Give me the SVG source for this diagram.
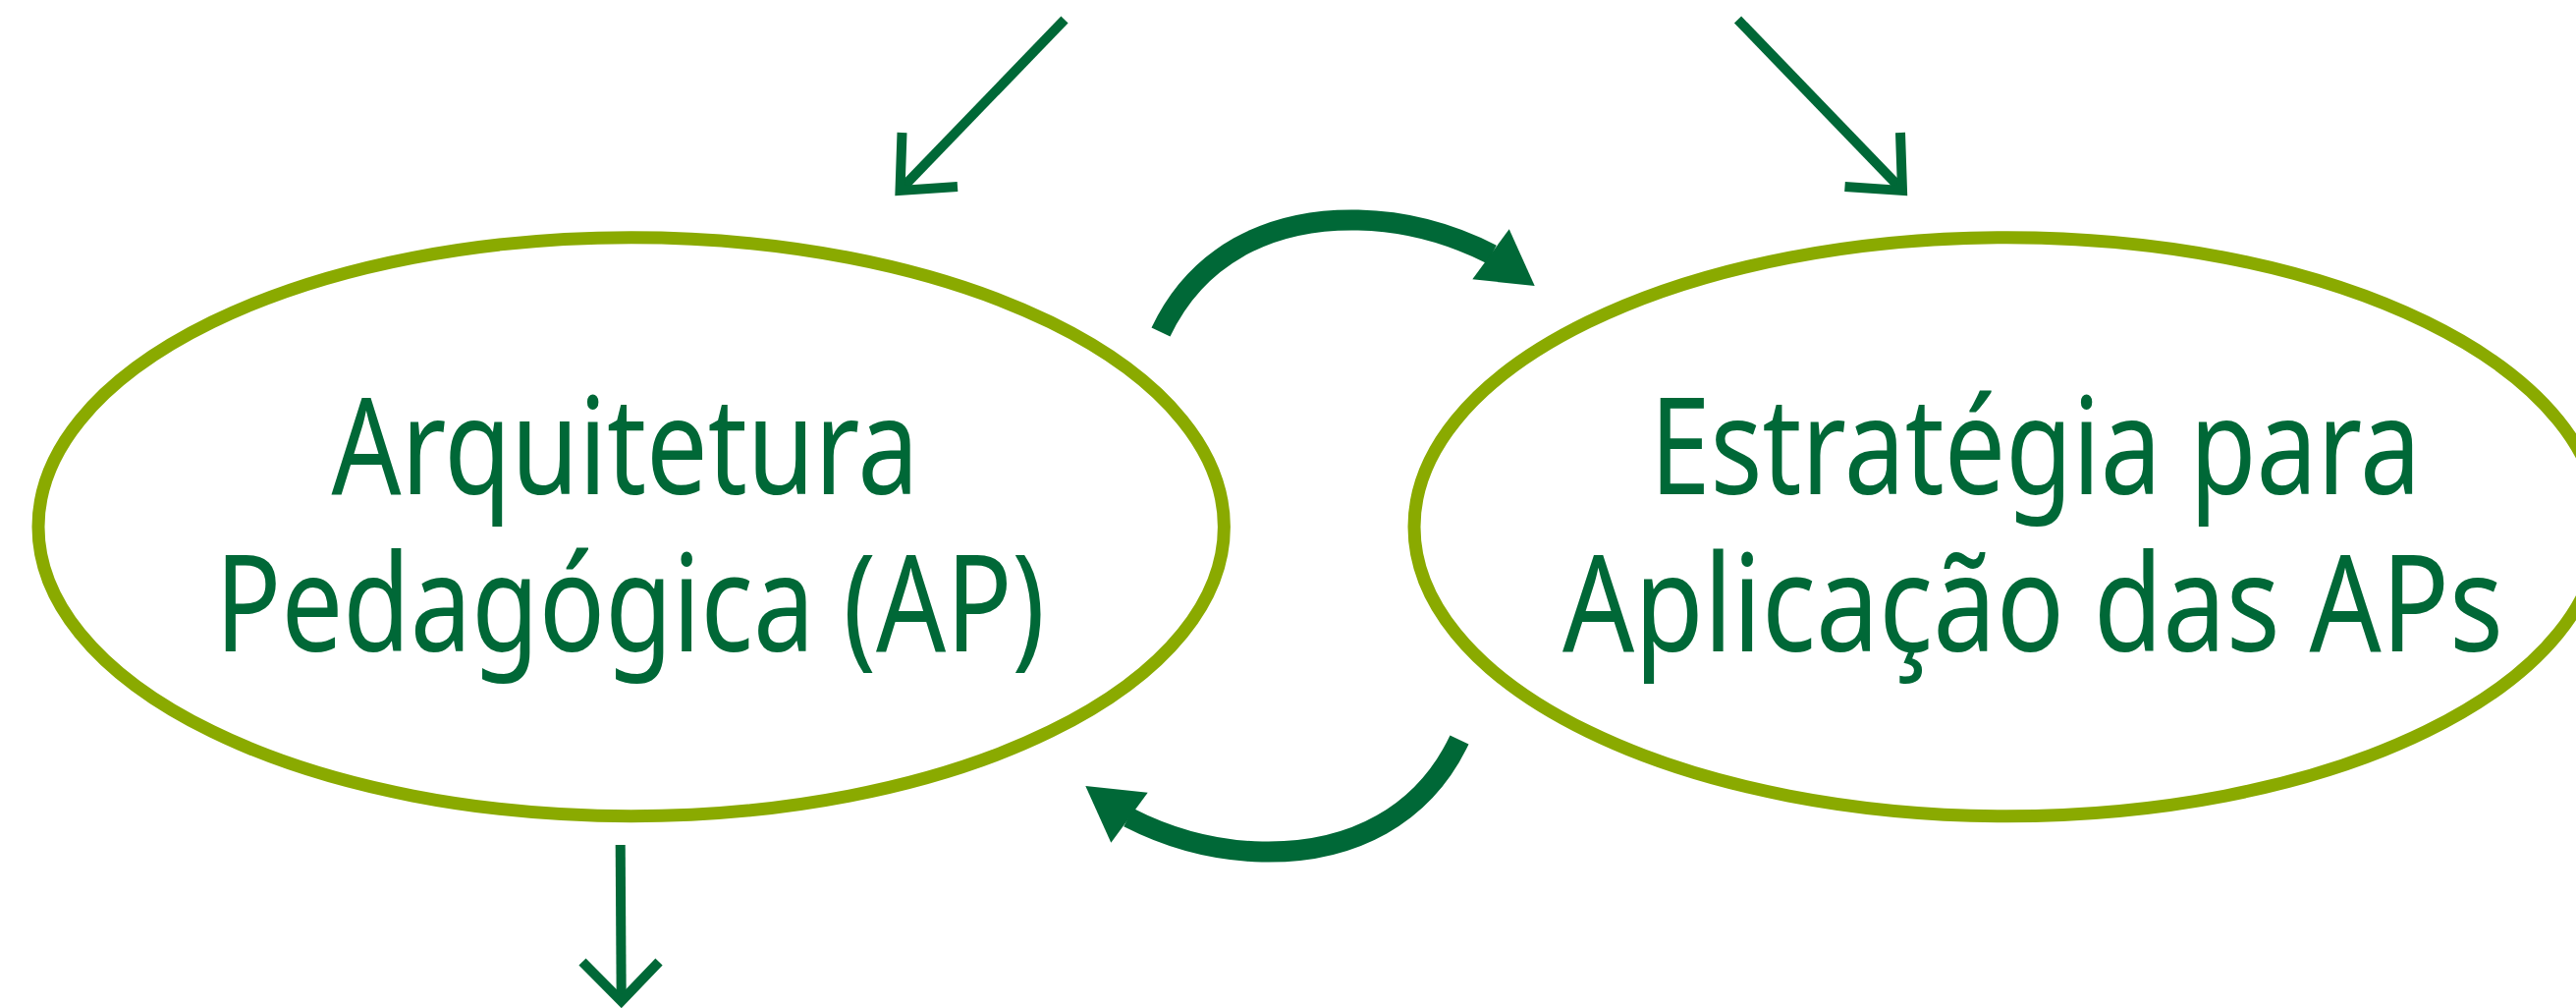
<svg xmlns="http://www.w3.org/2000/svg" width="2623" height="1026" viewBox="0 0 2623 1026">
  <style>
    .node { fill: none; stroke: #8aaa00; stroke-width: 13; }
    .label { font-family: "Noto Sans", "Open Sans", "DejaVu Sans", sans-serif; font-size: 137px; fill: #006837; text-anchor: middle; }
    .thin { fill: none; stroke: #006837; stroke-width: 10; stroke-linecap: butt; stroke-linejoin: miter; }
    .thick { fill: none; stroke: #006837; stroke-width: 21; stroke-linecap: butt; }
    .head { fill: #006837; }
  </style>
  <rect width="2623" height="1026" fill="#ffffff"/>
  <g id="node-ap">
    <ellipse class="node" cx="642.7" cy="536.2" rx="603.7" ry="294.5"/>
    <text class="label" x="636.5" y="502.7" textLength="598" lengthAdjust="spacingAndGlyphs">Arquitetura</text>
    <text class="label" x="641.5" y="662.7" textLength="845" lengthAdjust="spacingAndGlyphs">Pedagógica (AP)</text>
  </g>
  <g id="node-estrategia">
    <ellipse class="node" cx="2043.7" cy="536.2" rx="603.7" ry="294.5"/>
    <text class="label" x="2072.5" y="502.7" textLength="785" lengthAdjust="spacingAndGlyphs">Estratégia para</text>
    <text class="label" x="2070" y="662.7" textLength="958" lengthAdjust="spacingAndGlyphs">Aplicação das APs</text>
  </g>
  <g id="connectors">
    <g id="arrow-in-left">
      <line class="thin" x1="1084" y1="20" x2="918" y2="192"/>
      <polyline class="thin" points="918.5,135 916.5,194 975,190"/>
    </g>
    <g id="arrow-in-right">
      <line class="thin" x1="1769.5" y1="20" x2="1935.5" y2="192"/>
      <polyline class="thin" points="1935,135 1937,194 1878.5,190"/>
    </g>
    <g id="arrow-out-bottom">
      <line class="thin" x1="631.7" y1="860" x2="632.7" y2="1018"/>
      <polyline class="thin" points="593,979 632.7,1019 671,979"/>
    </g>
    <g id="arrow-ap-to-estrategia">
      <path class="thick" d="M1182,338 C1218,262 1290,222 1383,224 C1432,225 1478,238 1519,259"/>
      <polygon class="head" points="1536.7,233.3 1562.7,291 1499.3,284.3"/>
    </g>
    <g id="arrow-estrategia-to-ap" transform="rotate(180 1334 545.5)">
      <path class="thick" d="M1182,338 C1218,262 1290,222 1383,224 C1432,225 1478,238 1519,259"/>
      <polygon class="head" points="1536.7,233.3 1562.7,291 1499.3,284.3"/>
    </g>
  </g>
</svg>
